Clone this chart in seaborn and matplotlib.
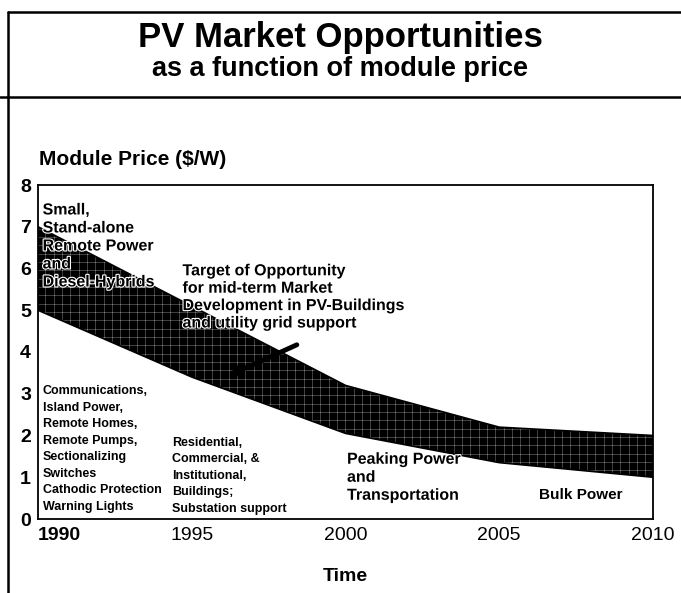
import matplotlib
matplotlib.use("Agg")
import matplotlib.pyplot as plt
import matplotlib.patheffects as pe
import pandas as pd
import seaborn as sns

# ── data ────────────────────────────────────────────────────────────────────
years = [1990, 1995, 2000, 2005, 2010]
price_upper = [7.0, 5.1, 3.2, 2.2, 2.0]
price_lower = [5.0, 3.4, 2.05, 1.35, 1.0]
y_ticks = [0, 1, 2, 3, 4, 5, 6, 7, 8]
x_ticks = [1990, 1995, 2000, 2005, 2010]

sns.set_theme(style="white")
plt.rcParams["font.family"] = ["Liberation Sans", "DejaVu Sans"]
plt.rcParams["hatch.linewidth"] = 0.18
for k in ["text.color", "axes.labelcolor", "xtick.color", "ytick.color"]:
    plt.rcParams[k] = "black"

df = pd.DataFrame({"year": years, "upper": price_upper, "lower": price_lower})

fig = plt.figure(figsize=(6.81, 5.93), dpi=100)
ax = fig.add_axes([38 / 681, 74 / 593, 615 / 681, 334 / 593])

# band of market opportunity (dark, speckled like the scanned original)
ax.fill_between(df["year"], df["lower"], df["upper"], facecolor="black",
                edgecolor="white", hatch="++", linewidth=0, zorder=2)
sns.lineplot(data=df, x="year", y="upper", color="black", lw=1.2, ax=ax, zorder=3)
sns.lineplot(data=df, x="year", y="lower", color="black", lw=1.2, ax=ax, zorder=3)

ax.set_xlim(1990, 2010)
ax.set_ylim(0, 8)
ax.set_xticks(x_ticks)
ax.set_yticks(y_ticks)
ax.set_xticklabels([str(y) for y in x_ticks], fontsize=14)
ax.set_yticklabels([str(v) for v in y_ticks], fontsize=14, fontweight="bold")
ax.get_xticklabels()[0].set_fontweight("bold")
ax.get_xticklabels()[0].set_horizontalalignment("left")
ax.tick_params(axis="both", length=0)
ax.tick_params(axis="y", pad=5)
ax.tick_params(axis="x", pad=6)
ax.set_xlabel("Time", fontsize=14, fontweight="bold", labelpad=17)
ax.set_ylabel("")
for s in ax.spines.values():
    s.set_color("black")
    s.set_linewidth(1.3)

halo = [pe.withStroke(linewidth=1.6, foreground="white")]
big = dict(fontsize=11.5, fontweight="bold", va="center", zorder=5)
small = dict(fontsize=9, fontweight="bold", va="center", linespacing=1.5, zorder=5)

ax.text(1990.15, 6.54, "Small,\nStand-alone\nRemote Power\nand\nDiesel-Hybrids",
        linespacing=1.25, path_effects=halo, **big)
ax.text(1994.7, 5.32, "Target of Opportunity\nfor mid-term Market\n"
        "Development in PV-Buildings\nand utility grid support",
        linespacing=1.2, path_effects=halo, **big)
ax.text(1990.15, 1.68, "Communications,\nIsland Power,\nRemote Homes,\nRemote Pumps,\n"
        "Sectionalizing\nSwitches\nCathodic Protection\nWarning Lights", **small)
ax.text(1994.35, 1.04, "Residential,\nCommercial, &\nInstitutional,\nBuildings;\n"
        "Substation support", **small)
ax.text(2000.05, 1.0, "Peaking Power\nand\nTransportation",
        linespacing=1.25, path_effects=halo, **big)
ax.text(2006.3, 0.57, "Bulk Power", fontsize=11, fontweight="bold", va="center")

# arrow pointing into the band
ax.annotate("", xy=(1996.1, 3.4), xytext=(1998.5, 4.2),
            arrowprops=dict(arrowstyle="-|>", color="black", lw=3.5,
                            mutation_scale=12), zorder=6)

# axis title above the frame
ax.text(0.002, 1.075, "Module Price ($/W)", transform=ax.transAxes,
        fontsize=15, fontweight="bold", va="center", ha="left")

# header and page borders
fig.text(0.5, 1 - 38 / 593, "PV Market Opportunities", ha="center", va="center",
         fontsize=25, fontweight="bold")
fig.text(0.5, 1 - 69 / 593, "as a function of module price", ha="center",
         va="center", fontsize=19.5, fontweight="bold")
fig.add_artist(plt.Line2D([8 / 681, 1], [1 - 12 / 593] * 2, color="black", lw=1.8))
fig.add_artist(plt.Line2D([0, 1], [1 - 97 / 593] * 2, color="black", lw=1.8))
fig.add_artist(plt.Line2D([8 / 681] * 2, [0, 1 - 12 / 593], color="black", lw=1.8))

fig.savefig("out.png", dpi=100)
